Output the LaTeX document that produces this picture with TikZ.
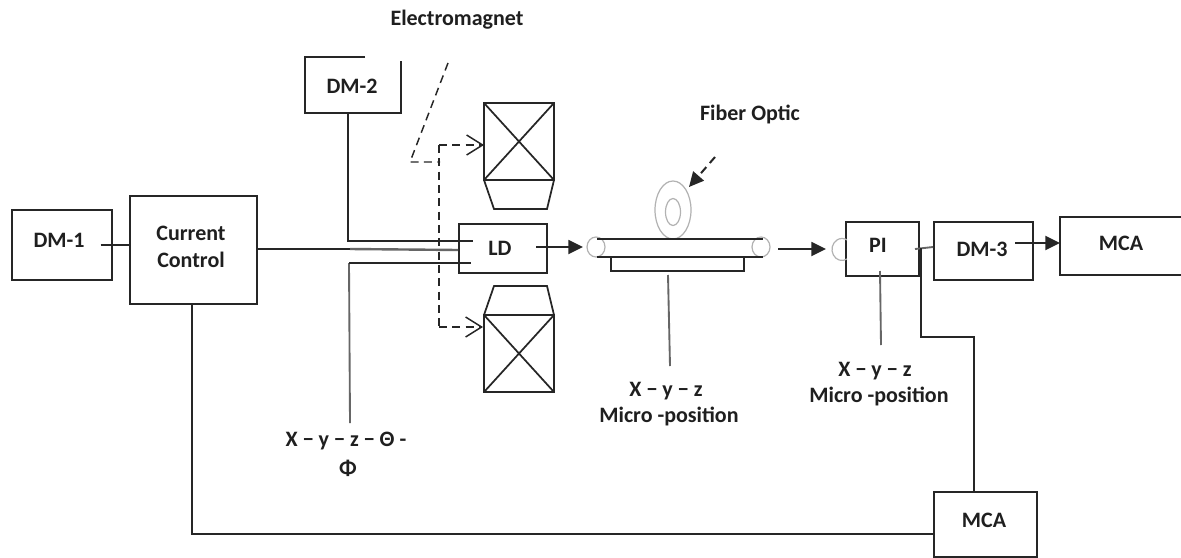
\documentclass[tikz,border=0pt]{standalone}
\usepackage{fontspec}
\setmainfont{Carlito}
\usetikzlibrary{arrows.meta}
\tikzset{
  x=0.75pt,y=-0.75pt,
  wire/.style={draw=black!85,line width=1.4pt},
  soft/.style={draw=black!60,line width=1.4pt},
  thinl/.style={draw=black!85,line width=1.3pt},
  ghost/.style={draw=black!30,line width=0.9pt},
  dashline/.style={draw=black!85,line width=1.1pt,dash pattern=on 6pt off 4pt},
  solidtip/.style={-{Triangle[length=11pt,width=10.5pt]}},
  opentip/.style={-{Straight Barb[length=12pt,width=15pt]}},
  lab/.style={font=\fontsize{16.5pt}{18pt}\selectfont\bfseries,text=black!88,inner sep=0pt},
  blockbox/.style={draw=black!85,line width=1.3pt,inner sep=0pt,anchor=north west,align=center},
}
\begin{document}
\begin{tikzpicture}
\useasboundingbox (0,0) rectangle (1181,557);
\fill[white] (0,0) rectangle (1181,557);
% blocks
\node[blockbox,minimum width=75pt,minimum height=52.5pt] (dm1) at (11,209) {};
\node[blockbox,minimum width=95.25pt,minimum height=81pt] (cc) at (129,195) {};
\node[blockbox,minimum width=66pt,minimum height=36.75pt] (ld) at (458,223) {};
\node[blockbox,minimum width=54.75pt,minimum height=40.5pt] (pi) at (845,221) {};
\node[blockbox,minimum width=74.25pt,minimum height=43.5pt] (dm3) at (933,221) {};
\node[blockbox,minimum width=77.25pt,minimum height=48.75pt] (mcb) at (933,491) {};
% MCA top box runs off the right edge
\coordinate (m1) at (1181,217); \coordinate (m2) at (1060,217);
\coordinate (m3) at (1060,275); \coordinate (m4) at (1181,275);
\draw[thinl] (m1) -- (m2) -- (m3) -- (m4);
% DM-2 open box
\coordinate (d2a) at (365,57);
\coordinate (d2b) at (305,57);
\coordinate (d2c) at (305,113);
\coordinate (d2d) at (401,113);
\coordinate (d2e) at (401,61);
\draw[thinl,line join=miter] (d2a) -- (d2b) -- (d2c) -- (d2d) -- (d2e);
% coils
\coordinate (ua) at (484,103); \coordinate (ub) at (554,103);
\coordinate (uc) at (554,180); \coordinate (ud) at (484,180);
\draw[thinl] (ua) -- (ub) -- (uc) -- (ud) -- cycle (ua) -- (uc) (ub) -- (ud);
\draw[thinl] (ud) -- (494,209) -- (547,209) -- (uc);
\coordinate (la) at (484,315); \coordinate (lb) at (554,315);
\coordinate (lc) at (554,392); \coordinate (ld2) at (484,392);
\draw[thinl] (la) -- (lb) -- (lc) -- (ld2) -- cycle (la) -- (lc) (lb) -- (ld2);
\draw[thinl] (la) -- (494,286) -- (547,286) -- (lb);
% stage and fibre
\draw[ghost] (673,210) ellipse (18 and 29);
\draw[ghost] (673,212) ellipse (7.5 and 13.5);
\fill[white] (640,239.6) rectangle (710,256);
\draw[ghost] (596,247) ellipse (9 and 10);
\draw[ghost] (761,247) ellipse (9 and 10);
\coordinate (fa) at (597,239); \coordinate (fb) at (763,239);
\coordinate (fc) at (597,257); \coordinate (fd) at (763,257);
\draw[thinl] (fa) -- (fb) (fc) -- (fd);
\draw[thinl] (611,257) -- (611,271) -- (744,271) -- (744,257);
\draw[ghost] (847,259) arc (60:300:10 and 11);
% connectors
\draw[wire] (dm1.east) ++(-12,0) coordinate (dm1o) -- (dm1o -| cc.west);
\coordinate (e1) at (348,113);
\coordinate (e2) at (348,241);
\coordinate (e3) at (473,241);
\draw[wire] (e1) -- (e2) -- (e3);
\coordinate (g1) at (256,249);
\coordinate (g2) at (350,249);
\coordinate (g3) at (458,250);
\draw[wire] (g1) -- (g2);
\draw[soft,line width=1.8pt] (g2) -- (g3);
\coordinate (s1) at (350,423);
\coordinate (s2) at (349,263);
\coordinate (s3) at (471,263);
\draw[soft] (s1) -- (s2);
\draw[wire] (s2) -- (s3);
\draw[wire,solidtip] (536,247) -- (583,247);
\draw[wire,solidtip] (778,249) -- (826,249);
\draw[wire,solidtip] (1015,243) -- (1060,243);
\coordinate (pd1) at (915,249); \coordinate (pd2) at (933,247);
\draw[soft] (pd1) -- (pd2);
\coordinate (v1) at (921,248); \coordinate (v2) at (921,337);
\coordinate (v3) at (974,337); \coordinate (v4) at (974,491);
\draw[thinl] (v1) -- (v2) -- (v3) -- (v4);
\draw[soft] (880,271) -- (881,345);
\draw[soft] (668,275) -- (670,366);
\coordinate (c1) at (192,303); \coordinate (c2) at (192,534); \coordinate (c3) at (933,534);
\draw[wire] (c1) -- (c2) -- (c3);
% dashed
\coordinate (h1) at (448,63); \coordinate (h2) at (410,162); \coordinate (h3) at (440,162);
\coordinate (h4) at (439,145); \coordinate (h5) at (439,327);
\draw[dashline] (h1) -- (h2) -- (h3);
\draw[dashline] (h4) -- (h5);
\draw[dashline,opentip] (h4) -- (484,145);
\draw[dashline,opentip] (h5) -- (483,327);
\draw[dashline,line width=1.5pt,solidtip] (715,157) -- (689,187);
% labels
\node[lab] (t1) at (457,20) {Electromagnet};
\node[lab] (t2) at (750,114) {Fiber Optic};
\node[lab] at (59,240) {DM-1};
\node[lab] at (191,233) {Current};
\node[lab] at (191,260) {Control};
\node[lab] at (352,86) {DM-2};
\node[lab] at (500,248) {LD};
\node[lab] at (878,245) {PI};
\node[lab] at (982,249) {DM-3};
\node[lab] at (1121,243) {MCA};
\node[lab] at (984,520) {MCA};
\node[lab] at (875,371) {X − y − z};
\node[lab] at (879,396) {Micro -position};
\node[lab] at (666,391) {X − y − z};
\node[lab] at (669,416) {Micro -position};
\node[lab] at (346,441) {X − y − z − Θ -};
\node[lab] at (348,468) {Φ};
\end{tikzpicture}
\end{document}
